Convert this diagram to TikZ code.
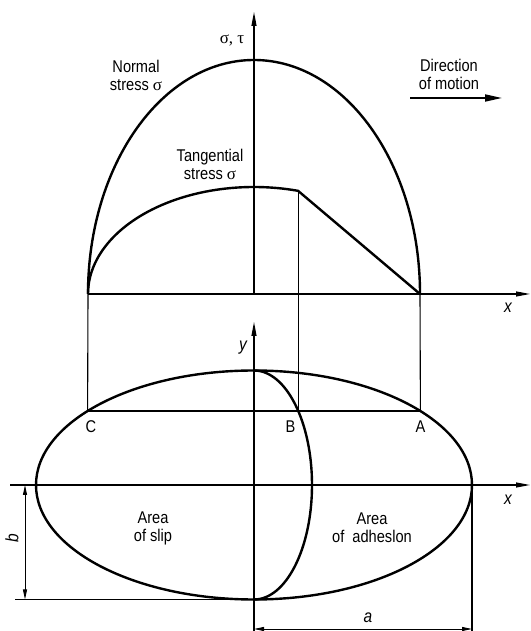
\documentclass[tikz,border=0pt]{standalone}
\usepackage{fontspec}
\setmainfont{Liberation Sans}[FakeStretch=0.86]
\newfontfamily\grk{Liberation Serif}
\usetikzlibrary{arrows.meta}
\begin{document}
\begin{tikzpicture}[x=1pt,y=1pt,
  thick line/.style={line width=2.4pt},
  thin line/.style={line width=1.1pt},
  axis/.style={thin line,-{Triangle[length=14pt,width=5pt]}},
  dim/.style={line width=0.9pt,{Triangle[length=10pt,width=4pt]}-{Triangle[length=10pt,width=4pt]}},
  lbl/.style={inner sep=0pt,font=\fontsize{17}{18}\selectfont},
  ilbl/.style={inner sep=0pt,font=\fontsize{18}{18}\selectfont\itshape},
]
\useasboundingbox (0,0) rectangle (530,631);
% upper diagram
\coordinate (O1) at (254,337);
\coordinate (T1) at (254,619);
\coordinate (C1) at (88,337);
\coordinate (A1) at (420,337);
\coordinate (X1) at (530,337);
% lower diagram
\coordinate (C) at (87.6,220);
\coordinate (B) at (298.3,220);
\coordinate (A) at (420.4,220);
\coordinate (O2) at (254,146);
\coordinate (Ybot) at (254,0);
\coordinate (Ytop) at (254,309);
\coordinate (Xl) at (10,146);
\coordinate (Xr) at (530,146);
\coordinate (E) at (472,146);
\coordinate (Bot) at (254,31.5);
\coordinate (BotL) at (15,31.5);
\coordinate (Ebot) at (472,0);
\coordinate (bt) at (25,146);
\coordinate (bb) at (25,31.5);
\coordinate (al) at (254,2);
\coordinate (ar) at (472,2);
\coordinate (m1) at (410,533);
\coordinate (m2) at (502,533);

% upper
\draw[axis] (O1) -- (T1);
\draw[axis] (C1) -- (X1);
\draw[thick line] (C1) arc[start angle=180,end angle=0,x radius=166pt,y radius=234pt];
\draw[thick line] (C1) arc[start angle=180,end angle=74.6,x radius=166pt,y radius=107pt] coordinate (P) -- (A1);
\draw[thin line] (C1) -- (C);
\draw[thin line] (A1) -- (A);
\draw[thin line] (P) -- (P |- B);
\draw[line width=1.8pt,-{Triangle[length=17pt,width=7pt]}] (m1) -- (m2);

% lower
\draw[axis] (Ybot) -- (Ytop);
\draw[axis] (Xl) -- (Xr);
\draw[thick line] (O2) ellipse[x radius=218pt,y radius=114.5pt];
\draw[thick line] (Bot) arc[start angle=-90,end angle=90,x radius=58pt,y radius=114.5pt];
\draw[thick line] (C) -- (A);
\draw[thin line] (BotL) -- (Bot);
\draw[thin line] (E) -- (Ebot);
\draw[dim] (bt) -- (bb);
\draw[dim] (al) -- (ar);

% labels
\node[lbl] (st) at (232,591) {\grk σ, τ};
\node[lbl,align=center,anchor=base] (normal) at (136,540) {Normal\\stress {\grk σ}};
\node[lbl,align=center,anchor=base] (tang) at (210,451) {Tangential\\stress {\grk σ}};
\node[lbl,align=center,anchor=base] (dir) at (449,541) {Direction\\of motion};
\node[ilbl] (x1) at (508,323) {x};
\node[ilbl] (x2) at (508,131) {x};
\node[ilbl] (y) at (243,283) {y};
\node[lbl] (lc) at (91,204.5) {C};
\node[lbl] (lb) at (290.5,204.5) {B};
\node[lbl] (la) at (420.5,204.5) {A};
\node[lbl,align=center,anchor=base] (slip) at (153,89) {Area\\of slip};
\node[lbl,align=center,anchor=base] (adh) at (372,88) {Area\\of\ \ adheslon};
\node[ilbl] (la2) at (368,13) {a};
\node[ilbl,rotate=90] (lb2) at (12,93) {b};
\end{tikzpicture}
\end{document}
